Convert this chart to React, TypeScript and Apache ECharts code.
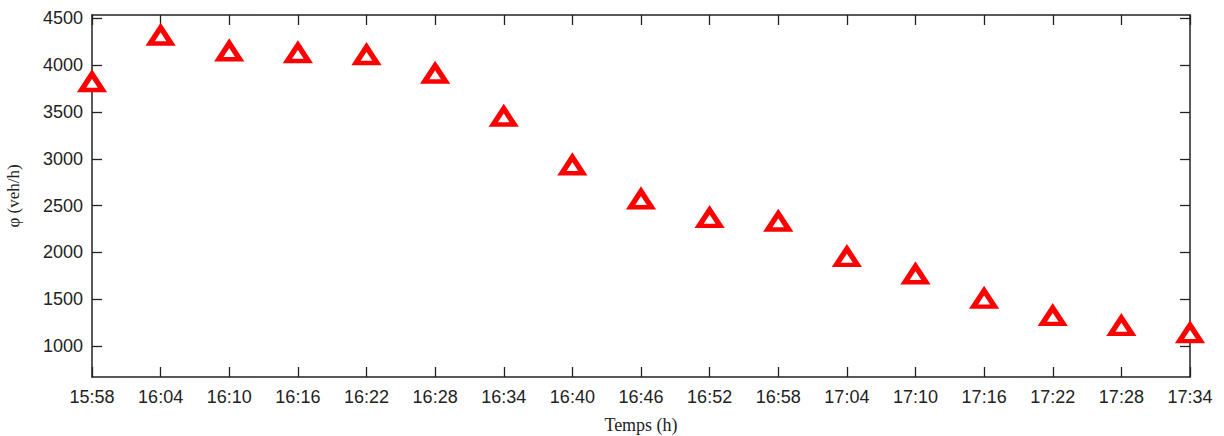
import React, { useEffect, useRef } from "react";
import * as echarts from "echarts";

const categories = [
  "15:58", "16:04", "16:10", "16:16", "16:22", "16:28", "16:34", "16:40", "16:46",
  "16:52", "16:58", "17:04", "17:10", "17:16", "17:22", "17:28", "17:34",
];
const flowValues = [
  3820, 4316, 4148, 4129, 4108, 3910, 3451, 2931, 2568,
  2369, 2330, 1953, 1767, 1507, 1322, 1216, 1139,
];
const yTicks = [1000, 1500, 2000, 2500, 3000, 3500, 4000, 4500];

export default function App() {
  const ref = useRef<HTMLDivElement>(null);
  useEffect(() => {
    if (!ref.current) return;
    const chart = echarts.init(ref.current, null, { renderer: "svg" });
    const axisColor = "#222";
    const labelFont = { fontFamily: "Liberation Sans, Arial, sans-serif", fontSize: 18, color: "#222" };
    const serif = "Liberation Serif, Times New Roman, serif";
    const xMax = categories.length - 1;
    const xTicks = categories.map((_, i) => i);
    const points = flowValues.map((v, i) => [i, v]);
    const mkTick = (vals: number[]) => ({
      show: true,
      inside: true,
      length: 10,
      customValues: vals,
      lineStyle: { color: axisColor, width: 1.3 },
    });
    const mkLine = () => ({ show: true, onZero: false, lineStyle: { color: axisColor, width: 1.5 } });
    chart.setOption({
      animation: false,
      backgroundColor: "#fff",
      grid: { left: 92, right: 34, top: 15, bottom: 59, containLabel: false, outerBoundsMode: "none" },
      xAxis: [
        {
          type: "value",
          min: 0,
          max: xMax,
          interval: 1,
          position: "bottom",
          axisLine: mkLine(),
          axisTick: mkTick(xTicks),
          axisLabel: {
            ...labelFont,
            margin: 11,
            customValues: xTicks,
            formatter: (v: number) => categories[Math.round(v)] ?? "",
          },
          splitLine: { show: false },
          name: "Temps (h)",
          nameLocation: "middle",
          nameGap: 39,
          nameTextStyle: { fontFamily: serif, fontSize: 18, color: "#222" },
        },
        {
          type: "value",
          min: 0,
          max: xMax,
          interval: 1,
          position: "top",
          axisLine: mkLine(),
          axisTick: mkTick(xTicks),
          axisLabel: { show: false, customValues: xTicks },
          splitLine: { show: false },
        },
      ],
      yAxis: [
        {
          type: "value",
          min: 670,
          max: 4535,
          position: "left",
          axisLine: mkLine(),
          axisTick: mkTick(yTicks),
          axisLabel: { ...labelFont, margin: 9, customValues: yTicks, formatter: (v: number) => String(v) },
          splitLine: { show: false },
          name: "φ (veh/h)",
          nameLocation: "middle",
          nameGap: 70,
          nameRotate: 90,
          nameTextStyle: { fontFamily: serif, fontSize: 17, color: "#222" },
        },
        {
          type: "value",
          min: 670,
          max: 4535,
          position: "right",
          axisLine: mkLine(),
          axisTick: mkTick(yTicks),
          axisLabel: { show: false, customValues: yTicks },
          splitLine: { show: false },
        },
      ],
      series: [
        {
          type: "scatter",
          xAxisIndex: 0,
          yAxisIndex: 0,
          data: points,
          symbol: "triangle",
          symbolSize: [21, 16],
          clip: false,
          z: 5,
          itemStyle: { color: "#fff", borderColor: "#ff0000", borderWidth: 5, opacity: 1 },
          emphasis: { disabled: true },
        },
      ],
    });
    return () => chart.dispose();
  }, []);
  return <div ref={ref} style={{ position: "absolute", left: 0, top: 0, width: 1224, height: 436 }} />;
}
